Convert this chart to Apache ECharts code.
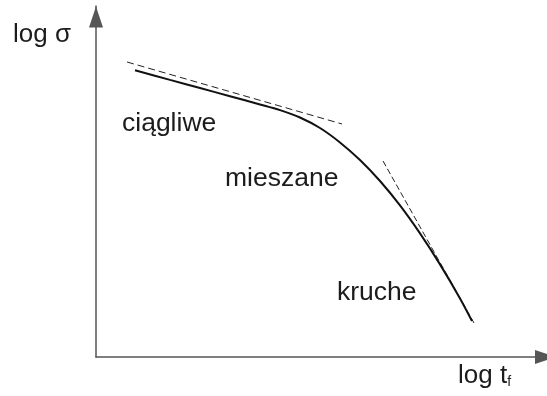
<!DOCTYPE html>
<html>
<head>
<meta charset="utf-8">
<script src="https://cdn.jsdelivr.net/npm/echarts@6/dist/echarts.min.js"></script>
<style>
  html, body { margin: 0; padding: 0; background: #fff; }
  #chart { width: 547px; height: 396px; }
</style>
</head>
<body>
<div id="chart"></div>
<script>
// Creep-rupture curve: log stress vs log time to failure (arbitrary log units)
const curveLogT   = [0.886, 1.682, 2.364, 3.045, 3.727, 4.182, 4.636, 5.091, 5.545, 6.0, 6.455, 6.909, 7.364, 7.818, 8.273, 8.545];
const curveLogSig = [6.534, 6.316, 6.131, 5.944, 5.757, 5.627, 5.459, 5.219, 4.89, 4.49, 4.011, 3.455, 2.817, 2.111, 1.336, 0.821];

// Asymptotes: ductile branch and brittle branch
const ductileLogT   = [0.705, 5.591];
const ductileLogSig = [6.724, 5.311];
const brittleLogT   = [6.523, 8.591];
const brittleLogSig = [4.467, 0.775];

// Fracture regime labels
const regimeNames = ['ciągliwe', 'mieszane', 'kruche'];
const regimeLogT   = [0.591, 2.932, 5.477];
const regimeLogSig = [5.311, 4.057, 1.459];

const zip = (xs, ys) => xs.map((x, i) => [x, ys[i]]);

const font = '"Liberation Sans", Arial, sans-serif';
const ink = '#1c1c1c';

const chart = echarts.init(document.getElementById('chart'), null, { renderer: 'canvas' });
chart.setOption({
  animation: false,
  backgroundColor: '#fff',
  grid: { left: 96, right: 11, top: 6, bottom: 39 },
  xAxis: {
    type: 'value', min: 0, max: 10,
    axisLine: { show: true, lineStyle: { color: '#555', width: 1.5 },
      symbol: ['none', 'triangle'], symbolSize: [14, 21], symbolOffset: [0, 9.5] },
    axisTick: { show: false }, axisLabel: { show: false }, splitLine: { show: false }
  },
  yAxis: {
    type: 'value', min: 0, max: 8,
    axisLine: { show: true, lineStyle: { color: '#555', width: 1.5 },
      symbol: ['none', 'triangle'], symbolSize: [14, 21], symbolOffset: [0, -11] },
    axisTick: { show: false }, axisLabel: { show: false }, splitLine: { show: false }
  },
  graphic: [
    { type: 'text', left: 13, top: 22,
      style: { text: 'log σ', font: '26px ' + font, fill: ink } },
    { type: 'text', left: 458, top: 363,
      style: { text: '{a|log t}{b|f}', fill: ink,
        rich: { a: { fontSize: 26, fontFamily: font, color: ink },
                b: { fontSize: 14, fontFamily: font, color: ink, verticalAlign: 'bottom', padding: [12, 0, 0, 0] } } } }
  ],
  series: [
    {
      type: 'line', data: zip(ductileLogT, ductileLogSig), showSymbol: false,
      lineStyle: { color: '#222', width: 1, type: [7, 4] }
    },
    {
      type: 'line', data: zip(brittleLogT, brittleLogSig), showSymbol: false,
      lineStyle: { color: '#222', width: 1, type: [6, 3] }
    },
    {
      type: 'line', data: zip(curveLogT, curveLogSig), showSymbol: false, smooth: 0.3,
      lineStyle: { color: '#111', width: 2 }
    },
    {
      type: 'scatter', symbolSize: 0, itemStyle: { opacity: 1 },
      data: regimeNames.map((n, i) => ({ name: n, value: [regimeLogT[i], regimeLogSig[i]] })),
      label: { show: true, position: [0, 0], align: 'left', verticalAlign: 'middle', opacity: 1,
        formatter: '{b}', fontSize: 26.5, fontFamily: font, color: ink }
    }
  ]
});
</script>
</body>
</html>
